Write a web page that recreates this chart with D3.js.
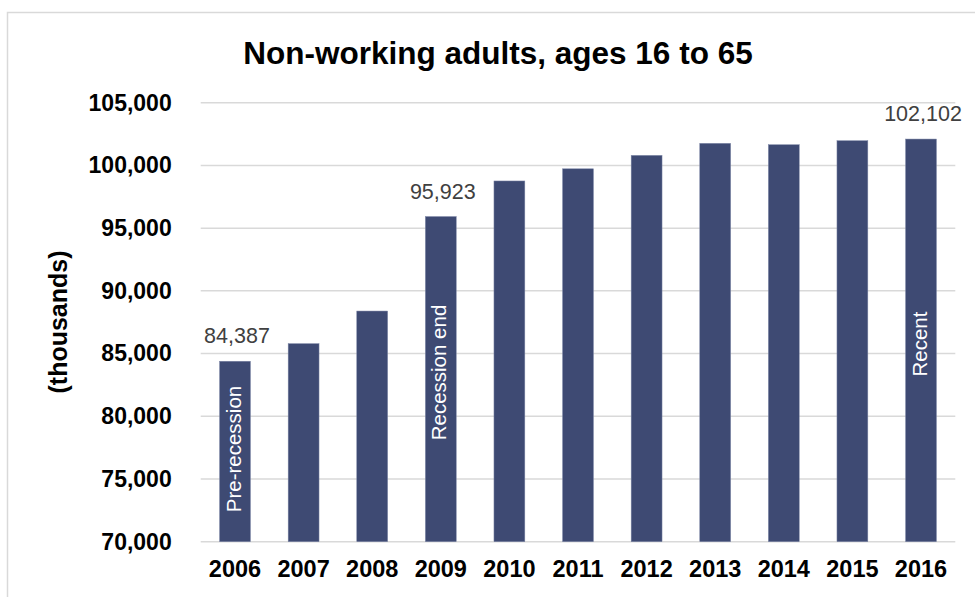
<!DOCTYPE html>
<html>
<head>
<meta charset="utf-8">
<script src="https://cdn.jsdelivr.net/npm/d3@7"></script>
<style>
  html, body { margin: 0; padding: 0; background: #fff; }
  text { font-family: "Liberation Sans", Arial, sans-serif; }
</style>
</head>
<body>
<div id="chart"></div>
<script>
// data
var years = ["2006", "2007", "2008", "2009", "2010", "2011", "2012", "2013", "2014", "2015", "2016"];
var values = [84387, 85790, 88390, 95923, 98760, 99730, 100800, 101760, 101650, 101970, 102102];
var yTicks = [70000, 75000, 80000, 85000, 90000, 95000, 100000, 105000];
var labelledYears = ["2006", "2009", "2016"];
var noteYears = ["2006", "2009", "2016"];
var noteTexts = ["Pre-recession", "Recession end", "Recent"];
var noteMids = [77390, 83490, 85760];

var width = 975, height = 597;
var margin = {top: 102.7, right: 19.7, bottom: 55.3, left: 200.7};
var barColor = "#3e4a73";
var gridColor = "#d9d9d9";

var data = years.map(function (y, i) { return {year: y, value: values[i]}; });

var svg = d3.select("#chart")
    .append("svg")
    .attr("width", width)
    .attr("height", height);

// outer frame (only top and left edges are visible)
svg.append("path")
    .attr("d", "M7.5," + height + "V12.5H" + width)
    .attr("fill", "none")
    .attr("stroke", gridColor)
    .attr("stroke-width", 1.5);

// Scales
var x = d3.scaleBand()
    .domain(years)
    .range([margin.left, width - margin.right])
    .paddingInner(0.55)
    .paddingOuter(0.275);
var y = d3.scaleLinear()
    .domain([70000, 105000])
    .range([height - margin.bottom, margin.top]);

var fmt = d3.format(",");

// Grid lines
svg.append("g")
    .selectAll("line")
    .data(yTicks)
    .enter()
    .append("line")
    .attr("x1", margin.left)
    .attr("x2", width - margin.right)
    .attr("y1", function (d) { return y(d); })
    .attr("y2", function (d) { return y(d); })
    .attr("stroke", gridColor)
    .attr("stroke-width", 1.5);

// Y-axis
var yAxis = d3.axisLeft(y)
    .tickValues(yTicks)
    .tickFormat(fmt)
    .tickSize(0)
    .tickPadding(29);
svg.append("g")
    .attr("transform", "translate(" + margin.left + ",0)")
    .call(yAxis)
    .call(function (g) { g.select(".domain").remove(); })
    .selectAll("text")
    .attr("font-size", 23)
    .attr("font-weight", "bold")
    .attr("fill", "#000")
    .style("font-family", "'Liberation Sans', Arial, sans-serif");

// X-axis
var xAxis = d3.axisBottom(x)
    .tickSize(0)
    .tickPadding(19);
svg.append("g")
    .attr("transform", "translate(0," + y(70000) + ")")
    .call(xAxis)
    .call(function (g) { g.select(".domain").remove(); })
    .selectAll("text")
    .attr("font-size", 23.5)
    .attr("font-weight", "bold")
    .attr("fill", "#000")
    .style("font-family", "'Liberation Sans', Arial, sans-serif");

// Bars
svg.append("g")
    .selectAll("rect")
    .data(data)
    .enter()
    .append("rect")
    .attr("x", function (d) { return x(d.year); })
    .attr("y", function (d) { return y(d.value); })
    .attr("width", x.bandwidth())
    .attr("height", function (d) { return y(70000) - y(d.value); })
    .attr("fill", barColor)
    .attr("stroke", "#7d86a6")
    .attr("stroke-width", 0.5);

// value labels
svg.append("g")
    .selectAll("text")
    .data(data.filter(function (d) { return labelledYears.indexOf(d.year) >= 0; }))
    .enter()
    .append("text")
    .attr("x", function (d) { return x(d.year) + x.bandwidth() / 2 + 2; })
    .attr("y", function (d) { return y(d.value) - 18; })
    .attr("text-anchor", "middle")
    .attr("font-size", 21.5)
    .attr("fill", "#404040")
    .text(function (d) { return fmt(d.value); });

// notes written up the bars
var notes = noteYears.map(function (yr, i) {
    return {year: yr, text: noteTexts[i], mid: noteMids[i]};
});
var note = svg.append("g")
    .selectAll("g")
    .data(notes)
    .enter()
    .append("g")
    .attr("transform", function (d) {
        return "translate(" + (x(d.year) + x.bandwidth() / 2 - 1.5) + "," + y(d.mid) + ")";
    });
note.append("text")
    .attr("transform", "rotate(-90)")
    .attr("dy", "0.35em")
    .attr("text-anchor", "middle")
    .attr("font-size", 20.5)
    .attr("fill", "#fff")
    .text(function (d) { return d.text; });

// Title
svg.append("text")
    .attr("x", 498)
    .attr("y", 64)
    .attr("text-anchor", "middle")
    .attr("font-size", 31.5)
    .attr("font-weight", "bold")
    .attr("fill", "#000")
    .text("Non-working adults, ages 16 to 65");

// y-axis label
svg.append("text")
    .attr("transform", "translate(58.5,322) rotate(-90)")
    .attr("dy", "0.35em")
    .attr("text-anchor", "middle")
    .attr("font-size", 25)
    .attr("font-weight", "bold")
    .attr("fill", "#000")
    .text("(thousands)");
</script>
</body>
</html>
